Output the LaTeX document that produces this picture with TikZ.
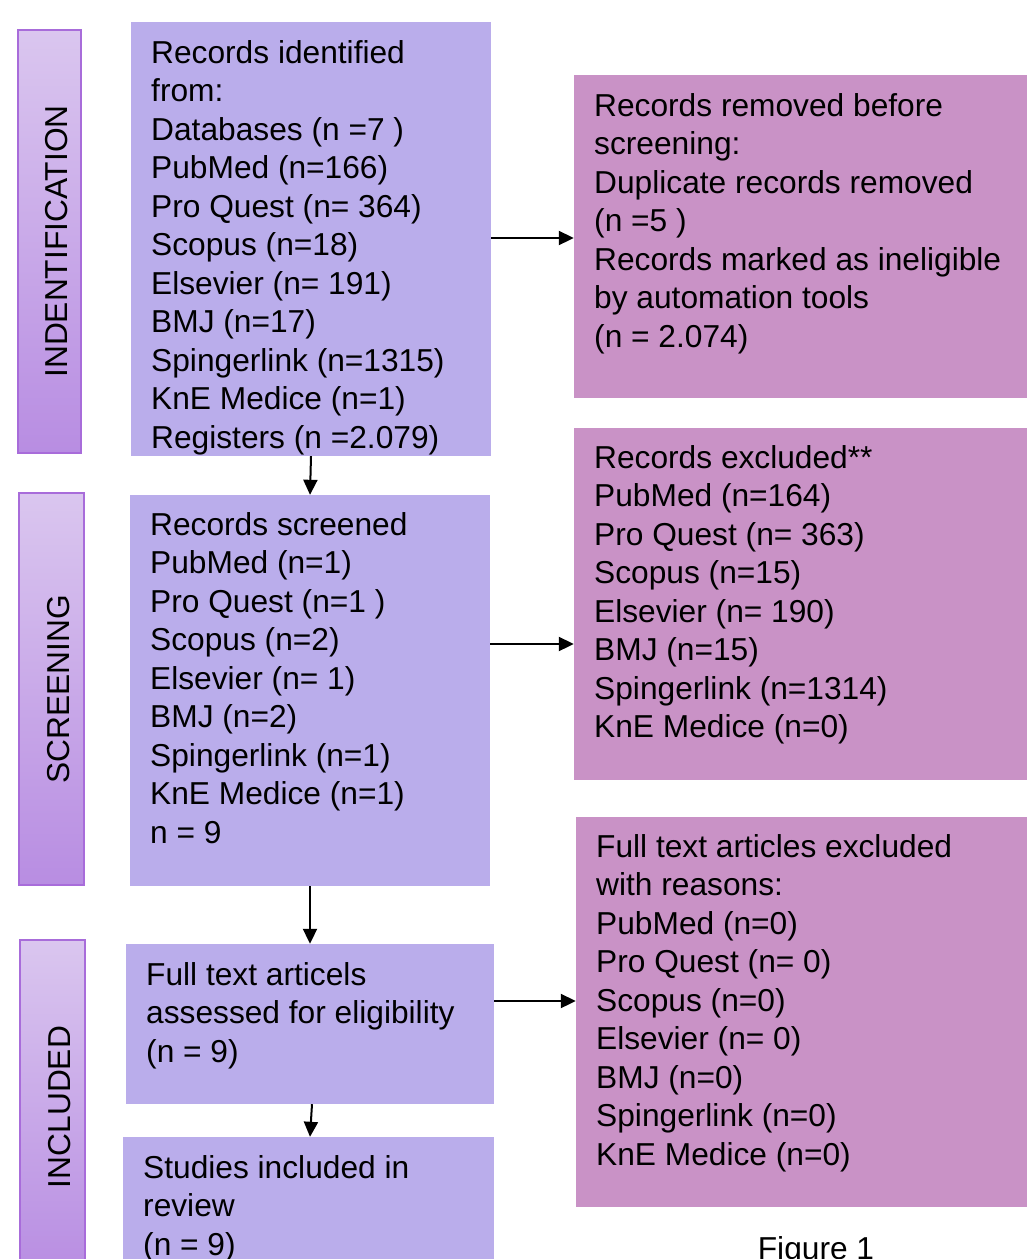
\documentclass[tikz,border=0pt]{standalone}
\usepackage{fontspec}
\setmainfont{Liberation Sans}
\usepackage{graphicx}
\usetikzlibrary{arrows.meta,positioning}

\definecolor{boxlav}{RGB}{186,173,235}
\definecolor{boxpink}{RGB}{201,146,198}
\definecolor{stagetop}{RGB}{218,198,239}
\definecolor{stagebot}{RGB}{184,141,226}
\definecolor{stageline}{RGB}{168,108,218}

\begin{document}
\begin{tikzpicture}[x=1pt,y=-1pt,
  every node/.style={font=\fontsize{31.7}{38.5}\selectfont},
  lbox/.style={rectangle,fill=boxlav,inner sep=0pt},
  rbox/.style={rectangle,fill=boxpink,inner sep=0pt},
  stage/.style={rectangle,draw=stageline,line width=1.5pt,top color=stagetop,bottom color=stagebot,inner sep=0pt},
  txt/.style={anchor=north west,align=left,inner sep=0pt},
  flow/.style={-{Triangle[length=15pt,width=14pt]},line width=2pt}]

\useasboundingbox (0,0) rectangle (1027,1259);
\clip (0,0) rectangle (1027,1259);

% stages on the left
\node[stage,minimum width=63pt,minimum height=423pt] (stident) at (49.5,241.5) {\kern14pt\rotatebox{90}{INDENTIFICATION}};
\node[stage,minimum width=65pt,minimum height=392pt] (stscreen) at (51.5,689) {\kern14pt\rotatebox{90}{SCREENING}};
\node[stage,minimum width=65pt,minimum height=334pt] (stincl) at (52.5,1107) {\kern14pt\rotatebox{90}{INCLUDED}};

% main column
\node[lbox,minimum width=360pt,minimum height=434pt] (ident) at (311,239) {};
\node[txt] (identtxt) at (151,40) {Records identified\\ from:\\ Databases (n =7 )\\ PubMed (n=166)\\ Pro Quest (n= 364)\\ Scopus (n=18)\\ Elsevier (n= 191)\\ BMJ (n=17)\\ Spingerlink (n=1315)\\ KnE Medice (n=1)\\ Registers (n =2.079)};

\node[lbox,minimum width=360pt,minimum height=391pt] (screen) at (310,690.5) {};
\node[txt] (screentxt) at (150,512) {Records screened\\ PubMed (n=1)\\ Pro Quest (n=1 )\\ Scopus (n=2)\\ Elsevier (n= 1)\\ BMJ (n=2)\\ Spingerlink (n=1)\\ KnE Medice (n=1)\\ n = 9};

\node[lbox,minimum width=368pt,minimum height=160pt] (assess) at (310,1024) {};
\node[txt] (assesstxt) at (146,962) {Full text articels\\ assessed for eligibility\\ (n = 9)};

\node[lbox,minimum width=371pt,minimum height=160pt] (incl) at (308.5,1217) {};
\node[txt] (incltxt) at (143,1155) {Studies included in\\ review\\ (n = 9)};

% right column
\node[rbox,minimum width=460pt,minimum height=323pt] (removed) at (804,236.5) {};
\node[txt] (removedtxt) at (594,93) {Records removed before\\ screening:\\ Duplicate records removed\\ (n =5 )\\ Records marked as ineligible\\ by automation tools\\ (n = 2.074)};

\node[rbox,minimum width=460pt,minimum height=352pt] (excl) at (804,604) {};
\node[txt] (excltxt) at (594,445) {Records excluded**\\ PubMed (n=164)\\ Pro Quest (n= 363)\\ Scopus (n=15)\\ Elsevier (n= 190)\\ BMJ (n=15)\\ Spingerlink (n=1314)\\ KnE Medice (n=0)};

\node[rbox,minimum width=458pt,minimum height=390pt] (fullexcl) at (805,1012) {};
\node[txt] (fullexcltxt) at (596,834) {Full text articles excluded\\ with reasons:\\ PubMed (n=0)\\ Pro Quest (n= 0)\\ Scopus (n=0)\\ Elsevier (n= 0)\\ BMJ (n=0)\\ Spingerlink (n=0)\\ KnE Medice (n=0)};

\node[anchor=base] (fig) at (816,1259) {Figure 1};

% arrows
\coordinate (rowA) at (0,238);
\coordinate (rowB) at (0,644);
\coordinate (rowC) at (0,1001);
\draw[flow] (ident.east |- rowA) -- (removed.west |- rowA);
\draw[flow] (screen.east |- rowB) -- (excl.west |- rowB);
\draw[flow] (assess.east |- rowC) -- (fullexcl.west |- rowC);

\draw[flow] (ident.south) -- (screen.north);
\draw[flow] (screen.south) -- (assess.north);
\draw[flow] ([xshift=2pt]assess.south) -- ([xshift=1.5pt]incl.north);

\end{tikzpicture}
\end{document}
